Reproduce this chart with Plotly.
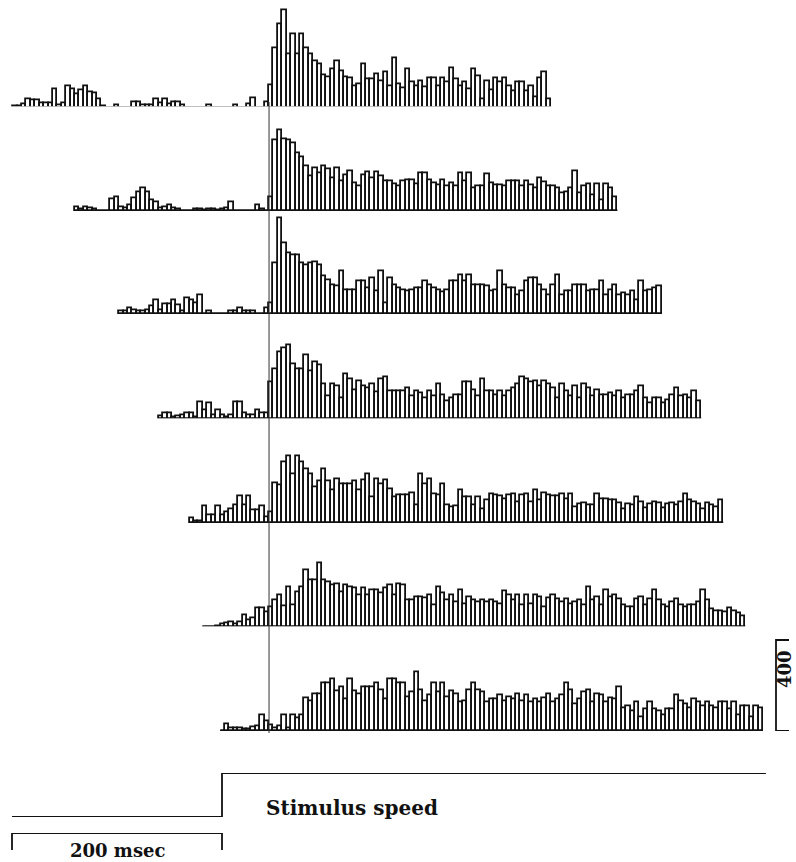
import plotly.graph_objects as go

# ---------------------------------------------------------------------------
# Peri-stimulus time histograms (spikes/s), one row per stimulus condition.
# Each row: bins before the response-onset marker, then bins after it.
# ---------------------------------------------------------------------------
BIN_MS = 4.2          # histogram bin width (ms)
ONSET_MS = 244.8      # time of the vertical onset marker (ms)
STIM_ON_MS = 200.0    # stimulus speed step
STIM_END_MS = 718.0
TIME_SCALE_MS = 200   # horizontal scale bar
RATE_SCALE = 400      # vertical scale bar (spikes/s)

row1_pre = [7, 7, 15, 37, 34, 34, 19, 19, 19, 81, 12, 22, 95, 81, 59, 76, 95, 70, 66, 37,
            7, 0, 0, 10, 0, 0, 0, 25, 25, 12, 12, 10, 40, 22, 40, 15, 25, 25, 10, 0,
            0, 0, 0, 0, 10, 0, 0, 0, 0, 0, 10, 0, 0, 15, 41, 0, 0, 25]
row1_post = [101, 264, 368, 430, 235, 322, 235, 322, 264, 238, 206, 191, 145, 133, 170, 206,
             160, 136, 130, 93, 104, 191, 126, 126, 148, 119, 158, 93, 218, 104, 87, 170,
             112, 93, 115, 90, 129, 129, 97, 129, 112, 173, 126, 93, 112, 83, 170, 141,
             39, 115, 78, 129, 112, 129, 97, 75, 112, 112, 75, 97, 49, 129, 158, 39]

row2_pre = [18, 8, 18, 12, 8, 0, 0, 0, 52, 62, 15, 10, 25, 55, 84, 99, 84, 45, 40, 12,
            15, 25, 12, 8, 0, 0, 0, 8, 8, 5, 8, 8, 5, 8, 10, 40, 0, 0, 0, 0,
            0, 25, 8, 0]
row2_post = [59, 311, 355, 317, 311, 299, 255, 237, 195, 151, 188, 166, 195, 181, 144, 188,
             129, 158, 173, 121, 107, 158, 169, 144, 170, 151, 132, 129, 118, 110, 129, 133,
             133, 118, 166, 166, 133, 121, 114, 133, 110, 121, 110, 166, 129, 166, 99, 107,
             110, 163, 121, 114, 114, 107, 132, 132, 132, 107, 129, 114, 99, 144, 124, 110,
             107, 99, 77, 84, 99, 173, 77, 107, 118, 70, 118, 47, 118, 99, 62]

row3_pre = [12, 12, 26, 15, 10, 12, 18, 33, 59, 15, 44, 44, 59, 40, 12, 70, 59, 45, 84, 0,
            10, 0, 0, 0, 0, 10, 10, 26, 12, 12, 12, 0, 0, 26]
row3_post = [48, 222, 422, 309, 265, 258, 258, 222, 215, 222, 229, 215, 164, 149, 128, 120,
             186, 106, 106, 106, 142, 142, 113, 157, 99, 186, 48, 157, 128, 113, 106, 99,
             106, 113, 113, 142, 128, 113, 106, 94, 106, 142, 142, 171, 142, 171, 128, 128,
             128, 123, 99, 106, 186, 128, 113, 113, 84, 99, 142, 157, 157, 128, 106, 84,
             128, 171, 84, 99, 99, 128, 128, 128, 99, 106, 106, 142, 84, 106, 128, 84,
             91, 84, 99, 62, 142, 99, 106, 113, 120]

row4_pre = [10, 27, 27, 8, 12, 15, 26, 26, 8, 72, 38, 68, 18, 38, 18, 8, 18, 72, 72, 23,
            18, 15, 40, 23, 27]
row4_post = [159, 219, 294, 310, 325, 242, 219, 219, 279, 211, 249, 234, 151, 98, 151, 143,
             91, 196, 174, 128, 166, 143, 136, 151, 116, 174, 181, 121, 121, 121, 121, 136,
             98, 121, 113, 91, 121, 98, 151, 106, 76, 91, 106, 106, 159, 159, 128, 98,
             174, 121, 121, 106, 121, 98, 121, 136, 151, 181, 174, 159, 166, 143, 166, 151,
             136, 91, 151, 121, 98, 143, 91, 151, 136, 98, 128, 106, 106, 113, 98, 121,
             91, 106, 106, 121, 143, 91, 68, 91, 91, 68, 83, 106, 136, 98, 106, 91,
             121, 76]

row5_pre = [22, 7, 7, 72, 32, 32, 72, 32, 47, 61, 76, 115, 76, 115, 54, 54, 72, 25]
row5_post = [47, 174, 164, 266, 295, 215, 295, 266, 237, 215, 156, 185, 237, 185, 142, 193,
             171, 171, 171, 185, 142, 188, 215, 112, 193, 171, 188, 149, 112, 120, 120, 120,
             130, 76, 215, 171, 193, 127, 120, 171, 76, 69, 72, 142, 112, 112, 76, 112,
             61, 98, 127, 120, 115, 105, 120, 127, 91, 120, 127, 91, 142, 98, 130, 120,
             115, 115, 127, 105, 127, 69, 83, 86, 76, 76, 127, 105, 105, 98, 100, 86,
             61, 83, 76, 112, 91, 66, 83, 91, 86, 66, 83, 86, 76, 91, 127, 100,
             91, 83, 61, 86, 76, 69, 98]

row6_pre = [0, 0, 0, 5, 10, 15, 22, 10, 22, 51, 28, 40, 81, 81, 63]
row6_post = [86, 116, 141, 90, 176, 93, 153, 176, 251, 206, 206, 281, 206, 198, 183, 186,
             153, 183, 176, 168, 138, 168, 138, 161, 161, 146, 168, 183, 141, 186, 183, 116,
             116, 131, 131, 126, 138, 93, 173, 149, 116, 141, 108, 161, 101, 131, 116, 108,
             116, 108, 119, 108, 101, 158, 141, 116, 138, 93, 138, 101, 138, 131, 86, 126,
             141, 123, 108, 123, 101, 108, 116, 93, 176, 116, 131, 93, 161, 131, 141, 123,
             93, 86, 86, 123, 131, 93, 123, 161, 116, 93, 86, 108, 123, 93, 86, 93,
             96, 108, 161, 116, 78, 71, 71, 63, 81, 71, 60, 48]

row7_pre = [0, 31, 12, 12, 12, 8, 8, 15, 20, 67, 42]
row7_post = [23, 11, 20, 67, 11, 67, 54, 67, 143, 129, 160, 160, 209, 209, 225, 175,
             194, 140, 225, 175, 163, 194, 194, 194, 209, 178, 140, 225, 225, 209, 209, 147,
             171, 259, 178, 132, 155, 209, 171, 209, 147, 175, 160, 124, 132, 178, 209, 178,
             171, 124, 140, 140, 155, 129, 147, 140, 160, 132, 155, 124, 140, 124, 144, 163,
             124, 140, 155, 209, 178, 116, 140, 171, 178, 124, 163, 155, 124, 144, 140, 194,
             101, 109, 85, 124, 62, 93, 124, 93, 88, 70, 93, 93, 155, 132, 116, 98,
             140, 124, 109, 124, 109, 101, 124, 124, 93, 124, 70, 109, 109, 62, 109, 101]

ROWS = [(row1_pre, row1_post), (row2_pre, row2_post), (row3_pre, row3_post),
        (row4_pre, row4_post), (row5_pre, row5_post), (row6_pre, row6_post),
        (row7_pre, row7_post)]

# ---------------------------------------------------------------------------
# Layout geometry (pixels in an 796 x 862 page)
# ---------------------------------------------------------------------------
W, H = 796, 862
PX_PER_MS = 1.05
X_ORIGIN_PX = 12                      # where t = 0 ms sits
PX_PER_RATE = 91 / 400                # vertical scale for every histogram
ROW_BASE_PX = [108, 211, 314, 419, 523, 627, 731]
RATE_RANGE = 460

x_lo = -X_ORIGIN_PX / PX_PER_MS
x_hi = (W - X_ORIGIN_PX) / PX_PER_MS


def paper_y(py):
    return 1 - py / H


fig = go.Figure()
layout_axes = {}
INK = "#111111"

for i, (pre, post) in enumerate(ROWS):
    counts = pre + post
    start = ONSET_MS - len(pre) * BIN_MS
    centers = [start + (k + 0.5) * BIN_MS for k in range(len(counts))]
    end = start + len(counts) * BIN_MS
    yname = "y" if i == 0 else f"y{i + 1}"
    fig.add_trace(go.Bar(
        x=centers, y=counts, width=BIN_MS, xaxis="x", yaxis=yname,
        marker=dict(color="white", line=dict(color=INK, width=1.8)),
        hoverinfo="skip", showlegend=False,
    ))
    fig.add_trace(go.Scatter(
        x=[start, end], y=[0, 0], xaxis="x", yaxis=yname, mode="lines",
        line=dict(color=INK, width=2.8), hoverinfo="skip", showlegend=False,
    ))
    bottom = paper_y(ROW_BASE_PX[i])
    top = min(1.0, bottom + RATE_RANGE * PX_PER_RATE / H)
    key = "yaxis" if i == 0 else f"yaxis{i + 1}"
    layout_axes[key] = dict(domain=[bottom, top], range=[0, (top - bottom) * H / PX_PER_RATE],
                            visible=False, anchor="x", fixedrange=True)

# Stimulus speed step trace
stim_t = [0, STIM_ON_MS, STIM_ON_MS, STIM_END_MS]
stim_v = [0, 0, 1, 1]
fig.add_trace(go.Scatter(x=stim_t, y=stim_v, xaxis="x", yaxis="y8", mode="lines",
                         line=dict(color=INK, width=1.8), hoverinfo="skip", showlegend=False))
layout_axes["yaxis8"] = dict(domain=[paper_y(817), paper_y(773)], range=[0, 1],
                             visible=False, anchor="x", fixedrange=True)

# Time scale bar (bracket)
fig.add_trace(go.Scatter(x=[0, 0, TIME_SCALE_MS, TIME_SCALE_MS], y=[0, 1, 1, 0],
                         xaxis="x", yaxis="y9", mode="lines",
                         line=dict(color=INK, width=1.8), hoverinfo="skip", showlegend=False))
layout_axes["yaxis9"] = dict(domain=[paper_y(850), paper_y(833)], range=[0, 1],
                             visible=False, anchor="x", fixedrange=True)

# Rate scale bar on the bottom histogram's axis
bar_x = (776 - X_ORIGIN_PX) / PX_PER_MS
serif = 13 / PX_PER_MS
fig.add_trace(go.Scatter(x=[bar_x + serif, bar_x, bar_x, bar_x + serif],
                         y=[RATE_SCALE, RATE_SCALE, 0, 0], xaxis="x", yaxis="y7", mode="lines",
                         line=dict(color=INK, width=1.8), hoverinfo="skip", showlegend=False))

# Onset marker
fig.add_shape(type="line", xref="x", yref="paper", x0=ONSET_MS, x1=ONSET_MS,
              y0=paper_y(733), y1=paper_y(102), line=dict(color="#333333", width=1))

FONT = dict(family="DejaVu Serif", size=20, color=INK)
fig.add_annotation(text="<b>Stimulus speed</b>", xref="x", yref="paper",
                   x=STIM_ON_MS + 40, y=paper_y(808), xanchor="left", yanchor="middle",
                   showarrow=False, font=FONT)
fig.add_annotation(text="<b>200 msec</b>", xref="x", yref="paper",
                   x=TIME_SCALE_MS / 2, y=paper_y(850), xanchor="center", yanchor="middle",
                   showarrow=False, font=dict(FONT, size=18))
fig.add_annotation(text="<b>400</b>", xref="x", yref="y7",
                   x=bar_x + 8 / PX_PER_MS, y=RATE_SCALE * 0.68, xanchor="center",
                   yanchor="middle", textangle=-90, showarrow=False,
                   font=dict(FONT, size=18))

fig.update_layout(
    width=W, height=H, margin=dict(l=0, r=0, t=0, b=0),
    paper_bgcolor="white", plot_bgcolor="white",
    barmode="overlay", bargap=0, showlegend=False,
    xaxis=dict(range=[x_lo, x_hi], domain=[0, 1], visible=False, fixedrange=True),
    **layout_axes,
)

fig.write_html("out.html")
